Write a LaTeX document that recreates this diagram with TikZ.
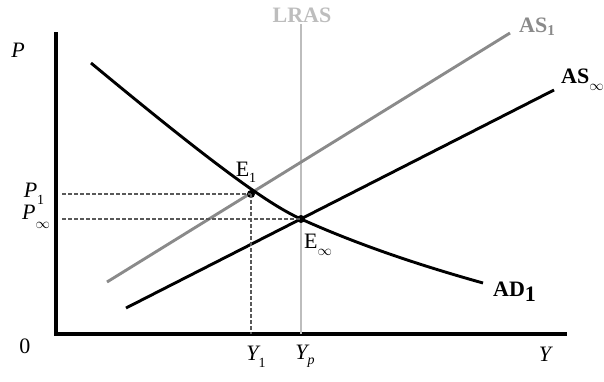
\documentclass[tikz,border=0pt]{standalone}
\usepackage{fontspec}
\setmainfont{Liberation Serif}
\begin{document}
\begin{tikzpicture}[x=1pt,y=-1pt,
  axis/.style={line width=3.8pt},
  curveblack/.style={line width=2.9pt,black},
  curvegray/.style={line width=2.9pt,color=asgray},
  lras/.style={line width=2.6pt,color=lrasgray},
  guide/.style={line width=1.1pt,color=black!65,dash pattern=on 3.5pt off 2.5pt},
  lbl/.style={font=\fontsize{22}{22}\selectfont,inner sep=0pt},
  blbl/.style={font=\fontsize{22}{22}\selectfont\bfseries,inner sep=0pt},
  dot/.style={circle,fill=black,inner sep=0pt,minimum size=8pt}]
\definecolor{asgray}{HTML}{8A8A8A}
\definecolor{lrasgray}{HTML}{BDBDBD}
\useasboundingbox (0,0) rectangle (604,381);
% axes
\coordinate (ytop) at (56,32);
\coordinate (orig) at (56,334);
\coordinate (xend) at (567,334);
\draw[axis] (ytop) -- (orig) -- (xend);
% LRAS
\coordinate (lrastop) at (301,24);
\coordinate (lrasbot) at (301,334);
\draw[lras] (lrastop) -- (lrasbot);
\node[blbl,color=lrasgray] (lraslbl) at (302,15) {LRAS};
% AS1
\coordinate (as1a) at (107,282);
\coordinate (as1b) at (510,33);
\draw[curvegray] (as1a) -- (as1b);
\node[blbl,color=asgray,anchor=west] (as1lbl) at (519,27) {AS\raisebox{-3pt}{\fontsize{15}{15}\selectfont 1}};
% AS inf
\coordinate (asia) at (126,308);
\coordinate (asib) at (554,90);
\draw[curveblack] (asia) -- (asib);
\node[blbl,anchor=west] (asilbl) at (561,80) {AS\raisebox{-7pt}{\fontsize{14}{14}\selectfont$\infty$}};
% points
\node[dot] (e1) at (251,194) {};
\node[dot] (einf) at (301,219) {};
% AD1
\coordinate (adstart) at (91,63);
\coordinate (adend) at (483,283);
\draw[curveblack] (adstart) .. controls (221,170.9) and (271,205.5) .. (einf.center)
  .. controls (361,246) and (423,266.2) .. (adend);
\node[blbl,anchor=west] (adlbl) at (493,292) {AD\raisebox{-5pt}{1}};
\node[lbl] (e1lbl) at (246,172) {E\raisebox{-6pt}{\fontsize{14}{14}\selectfont 1}};
\node[lbl] (einflbl) at (318,245) {E\raisebox{-7pt}{\fontsize{14}{14}\selectfont$\infty$}};
% guides
\coordinate (p1) at (62,194);
\coordinate (pinf) at (62,219);
\coordinate (y1) at (251,334);
\draw[guide] (p1) -- (e1.center);
\draw[guide] (pinf) -- (einf.center);
\draw[guide] (e1.center) -- (y1);
% labels
\node[lbl] (plbl) at (18,50) {\itshape P};
\node[lbl] (zero) at (25,346) {0};
\node[lbl] (p1lbl) at (34,194) {\itshape P\raisebox{-7pt}{\upshape\fontsize{14}{14}\selectfont 1}};
\node[lbl] (pinflbl) at (36,217) {\itshape P\raisebox{-9pt}{\upshape\fontsize{14}{14}\selectfont$\infty$}};
\node[lbl] (y1lbl) at (256,357) {\itshape Y\raisebox{-7pt}{\upshape\fontsize{14}{14}\selectfont 1}};
\node[lbl] (yplbl) at (305,356) {\itshape Y\raisebox{-5pt}{\fontsize{14}{14}\selectfont\itshape p}};
\node[lbl] (ylbl) at (545,354) {\itshape Y};
\end{tikzpicture}
\end{document}
